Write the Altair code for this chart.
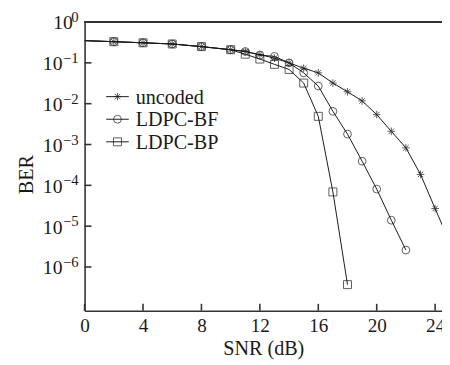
import altair as alt
import pandas as pd

# ---------------- data ----------------
series_names = ["uncoded", "LDPC-BF", "LDPC-BP"]

snr_uncoded = [0, 2, 4, 6, 8, 10, 11, 12, 13, 14, 15, 16, 17, 18, 19, 20, 21, 22, 23, 24, 25]
ber_uncoded = [0.35, 0.33, 0.31, 0.29, 0.25, 0.21, 0.19, 0.16, 0.13, 0.10, 0.074, 0.057,
               0.032, 0.0196, 0.0117, 0.0054, 0.0021, 8.3e-4, 1.85e-4, 2.7e-5, 4e-6]

snr_bf = [0, 2, 4, 6, 8, 10, 11, 12, 13, 14, 15, 16, 17, 18, 19, 20, 21, 22]
ber_bf = [0.35, 0.33, 0.31, 0.29, 0.25, 0.21, 0.19, 0.155, 0.144, 0.10, 0.057, 0.027,
          0.0065, 0.0018, 3.9e-4, 8.1e-5, 1.4e-5, 2.6e-6]

snr_bp = [0, 2, 4, 6, 8, 10, 11, 12, 13, 14, 15, 16, 17, 18]
ber_bp = [0.35, 0.33, 0.31, 0.29, 0.25, 0.21, 0.163, 0.124, 0.092, 0.069, 0.032, 0.0049,
          6.9e-5, 3.7e-7]

x_ticks = [0, 4, 8, 12, 16, 20, 24]
y_tick_exps = [0, -1, -2, -3, -4, -5, -6]

# ---------------- tables ----------------
rows = []
for name, xs, ys in [("uncoded", snr_uncoded, ber_uncoded),
                     ("LDPC-BF", snr_bf, ber_bf),
                     ("LDPC-BP", snr_bp, ber_bp)]:
    for x, y in zip(xs, ys):
        rows.append({"series": name, "snr": x, "ber": y})
df = pd.DataFrame(rows)

legend_df = pd.DataFrame({"series": series_names, "idx": list(range(len(series_names)))})
xt_df = pd.DataFrame({"snr": x_ticks})
yt_df = pd.DataFrame({"exp": y_tick_exps})

W, H = 364, 294
FONT = "Liberation Serif"
INK = "#1a1a1a"
AX = "#333333"
TXT = 20.5

asterisk = ("M-1,0L1,0M0,-1L0,1M-0.72,-0.72L0.72,0.72M-0.72,0.72L0.72,-0.72")

xscale = alt.Scale(domain=[0, 24.47], nice=False, zero=False)
yscale = alt.Scale(type="log", domain=[8.5e-8, 1], nice=False)

shape_scale = alt.Scale(domain=series_names, range=[asterisk, "circle", "square"])
size_scale = alt.Scale(domain=series_names, range=[60, 66, 54])

base = alt.Chart(df)

lines = base.mark_line(color=INK, strokeWidth=1, clip=True).encode(
    x=alt.X("snr:Q", scale=xscale,
            axis=alt.Axis(values=x_ticks, ticks=False, grid=False, domainColor=AX,
                          domainWidth=1.6, labelFont=FONT, labelFontSize=19.5,
                          labelColor=INK, labelPadding=6, labelFlush=False,
                          title="SNR (dB)", titleFont=FONT, titleFontSize=TXT,
                          titleFontWeight="normal", titleColor=INK,
                          titleY=45, titleBaseline="alphabetic")),
    y=alt.Y("ber:Q", scale=yscale,
            axis=alt.Axis(labels=False, ticks=False, grid=False, domainColor=AX,
                          domainWidth=1.6, title="BER", titleFont=FONT,
                          titleFontSize=TXT, titleFontWeight="normal", titleColor=INK,
                          titleX=-59, titleY=155, titleAngle=270,
                          titleAlign="center", titleBaseline="middle")),
    detail="series:N",
)

points = base.mark_point(filled=False, color=INK, strokeWidth=1, clip=True).encode(
    x=alt.X("snr:Q", scale=xscale),
    y=alt.Y("ber:Q", scale=yscale),
    shape=alt.Shape("series:N", scale=shape_scale, legend=None),
    size=alt.Size("series:N", scale=size_scale, legend=None),
).transform_filter("datum.snr > 0")

# inward ticks
xticks = alt.Chart(xt_df).mark_rule(color=AX, strokeWidth=1.6).encode(
    x=alt.X("snr:Q", scale=xscale),
    y=alt.value(H),
    y2=alt.value(H - 7),
)
yticks = alt.Chart(yt_df).transform_calculate(v="pow(10, datum.exp)").mark_rule(
    color=AX, strokeWidth=1.6).encode(
    y=alt.Y("v:Q", scale=yscale),
    x=alt.value(0),
    x2=alt.value(7),
)
top_line = alt.Chart(xt_df).mark_rule(color=AX, strokeWidth=1.4).encode(
    x=alt.value(0), x2=alt.value(W), y=alt.value(0)
)

# y tick labels 10^k
ylab = alt.Chart(yt_df).transform_calculate(
    v="pow(10, datum.exp)",
    etxt="datum.exp == 0 ? '0' : '\u2212' + abs(datum.exp)",
    bx="datum.exp == 0 ? -12 : -22.5",
)
ylab_base = ylab.mark_text(font=FONT, fontSize=20, color=INK, align="right",
                           baseline="middle", dy=1.5).encode(
    y=alt.Y("v:Q", scale=yscale),
    x=alt.X("bx:Q", scale=None),
    text=alt.value("10"),
)
ylab_exp = ylab.mark_text(font=FONT, fontSize=15, color=INK, align="right",
                          baseline="middle", dy=-5).encode(
    y=alt.Y("v:Q", scale=yscale),
    x=alt.value(-6),
    text="etxt:N",
)

# legend
leg = alt.Chart(legend_df).transform_calculate(ly="76 + 23 * datum.idx")
leg_line = leg.mark_rule(color=INK, strokeWidth=1).encode(
    x=alt.value(22), x2=alt.value(45), y=alt.Y("ly:Q", scale=None)
)
leg_pt = leg.mark_point(filled=False, color=INK, strokeWidth=1).encode(
    x=alt.value(33.5), y=alt.Y("ly:Q", scale=None),
    shape=alt.Shape("series:N", scale=shape_scale, legend=None),
    size=alt.Size("series:N", scale=size_scale, legend=None),
)
leg_txt = leg.mark_text(font=FONT, fontSize=TXT, color=INK, align="left",
                        baseline="middle", dy=1).encode(
    x=alt.value(52), y=alt.Y("ly:Q", scale=None), text="series:N"
)

chart = alt.layer(
    lines, points, xticks, yticks, top_line, ylab_base, ylab_exp,
    leg_line, leg_pt, leg_txt
).properties(
    width=W, height=H,
    padding={"left": 78, "top": 11, "right": 0, "bottom": 52},
    autosize=alt.AutoSizeParams(type="none"),
    background="white",
).configure_view(stroke=None)

chart.save("out.html", embed_options={"renderer": "svg", "actions": False})
